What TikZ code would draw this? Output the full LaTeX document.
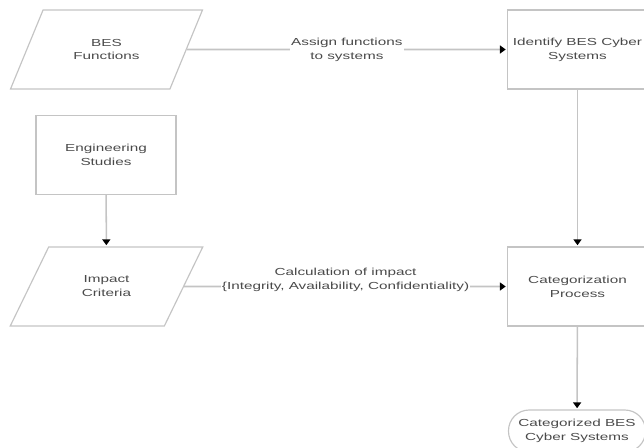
\documentclass[tikz,border=0pt]{standalone}
\usepackage{fontspec}
\setmainfont{Liberation Sans}[FakeStretch=1.5]
\usetikzlibrary{arrows.meta,shapes.geometric}

\definecolor{linegray}{HTML}{C4C4C4}
\definecolor{textgray}{HTML}{4A4A4A}

\begin{document}
\begin{tikzpicture}[
  x=0.03cm,y=-0.03cm,
  >={Triangle[width=6.8pt,length=5pt,color=black]},
  every node/.style={font=\fontsize{8.7pt}{11.9pt}\selectfont,text=textgray,align=center},
  process/.style={draw=linegray,line width=1pt,minimum width=4.2cm,minimum height=2.37cm},
  data/.style={trapezium,trapezium stretches=true,trapezium left angle=56.7,
    trapezium right angle=123.3,draw=linegray,line width=1pt,
    minimum width=5.79cm,minimum height=2.37cm},
  terminal/.style={draw=linegray,line width=1pt,rounded corners=0.62cm,
    minimum width=4.11cm,minimum height=1.26cm},
  flow/.style={->,draw=linegray,line width=1.3pt,shorten >=1pt},
  flowlabel/.style={fill=white,inner sep=1pt}
]
  \useasboundingbox (0,0) rectangle (644,447);

  \node[data]     (fun) at (106.5,49.5)  {BES\\Functions};
  \node[process]  (eng) at (106,155)     {Engineering\\Studies};
  \node[data]     (imp) at (106.5,286.5) {Impact\\Criteria};
  \node[process]  (ide) at (577.5,49.5)  {Identify BES Cyber\\Systems};
  \node[process]  (cat) at (577.5,286.5) {Categorization\\Process};
  \node[terminal] (out) at (577,431)     {Categorized BES\\Cyber Systems};

  \draw[flow] (fun) -- node[flowlabel] {Assign functions\\to systems} (ide);
  \draw[flow] (imp) -- node[flowlabel,yshift=0.21cm]
    {Calculation of impact\\\{Integrity, Availability, Confidentiality)} (cat);
  \draw[flow] (eng) -- (imp);
  \draw[flow] (ide) -- (cat);
  \draw[flow] (cat) -- (out);
\end{tikzpicture}
\end{document}
